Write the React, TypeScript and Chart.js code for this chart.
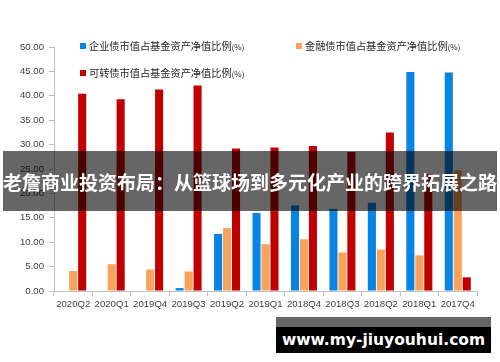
import React, { useEffect, useRef } from 'react';
import { Chart, registerables } from 'chart.js';

Chart.register(...registerables);

const categories = ['2020Q2', '2020Q1', '2019Q4', '2019Q3', '2019Q2', '2019Q1', '2018Q4', '2018Q3', '2018Q2', '2018Q1', '2017Q4'];
const corporateBond = [0, 0, 0, 0.6, 11.7, 16.0, 17.5, 16.8, 18.1, 44.9, 44.8];
const financialBond = [4.1, 5.5, 4.4, 4.0, 12.9, 9.6, 10.6, 7.9, 8.5, 7.3, 24.7];
const convertibleBond = [40.4, 39.3, 41.3, 42.1, 29.2, 29.4, 29.7, 28.5, 32.5, 24.0, 2.8];
const seriesLabels = ['企业债市值占基金资产净值比例(%)', '金融债市值占基金资产净值比例(%)', '可转债市值占基金资产净值比例(%)'];
const bannerTitle = '老詹商业投资布局：从篮球场到多元化产业的跨界拓展之路';
const watermarkText = 'www.my-jiuyouhui.com';

const CJK = '"Noto Sans CJK SC", "Noto Sans", sans-serif';
const LEGEND_SPOTS = [
  { x: 80, y: 46 },
  { x: 296, y: 46 },
  { x: 80, y: 73 },
];

const legendPlugin = {
  id: 'excelLegend',
  afterDraw(chart: any) {
    const ctx = chart.ctx;
    chart.data.datasets.forEach((ds: any, i: number) => {
      const p = LEGEND_SPOTS[i];
      if (!p) return;
      ctx.save();
      ctx.fillStyle = ds.backgroundColor;
      ctx.fillRect(p.x, p.y - 3, 6, 6);
      const m = String(ds.label).match(/^(.*?)(\(%\))$/);
      const main = m ? m[1] : ds.label;
      const suf = m ? m[2] : '';
      ctx.fillStyle = '#262626';
      ctx.textBaseline = 'middle';
      ctx.font = `10.2px ${CJK}`;
      ctx.fillText(main, p.x + 9, p.y);
      const w = ctx.measureText(main).width;
      ctx.font = `8px ${CJK}`;
      ctx.fillText(suf, p.x + 9 + w, p.y + 1);
      ctx.restore();
    });
  },
};

export default function App() {
  const canvasRef = useRef<HTMLCanvasElement | null>(null);

  useEffect(() => {
    if (!canvasRef.current) return;
    const tickFont = { family: '"Liberation Sans", Arial, sans-serif', size: 9.6 };
    const chart = new Chart(canvasRef.current, {
      type: 'bar',
      data: {
        labels: categories,
        datasets: [
          { label: seriesLabels[0], data: corporateBond, backgroundColor: '#0a84e4' },
          { label: seriesLabels[1], data: financialBond, backgroundColor: '#f8a25c' },
          { label: seriesLabels[2], data: convertibleBond, backgroundColor: '#c00000' },
        ],
      },
      options: {
        responsive: false,
        animation: false,
        devicePixelRatio: 1,
        layout: { padding: { top: 47, right: 23, left: 0, bottom: 0 } },
        datasets: { bar: { categoryPercentage: 0.7, barPercentage: 0.9 } },
        plugins: { legend: { display: false }, tooltip: { enabled: false } },
        scales: {
          x: {
            grid: { offset: true, drawOnChartArea: false, tickLength: 5, color: '#bfbfbf' },
            border: { color: '#bfbfbf', width: 1 },
            ticks: { font: tickFont, color: '#404040', padding: 3, maxRotation: 0, autoSkip: false },
            afterFit: (s: any) => { s.height = 71; },
          },
          y: {
            min: 0,
            max: 50,
            grid: { drawOnChartArea: false, tickLength: 5, color: '#bfbfbf' },
            border: { color: '#bfbfbf', width: 1 },
            ticks: { stepSize: 5, font: tickFont, color: '#404040', padding: 5, callback: (v: any) => Number(v).toFixed(2) },
            afterFit: (s: any) => { s.width = 54; },
          },
        },
      },
      plugins: [legendPlugin],
    } as any);
    return () => chart.destroy();
  }, []);

  return (
    <div style={{ position: 'absolute', left: 0, top: 0, width: 500, height: 362, background: '#fff', overflow: 'hidden' }}>
      <canvas ref={canvasRef} width={500} height={362} style={{ position: 'absolute', left: 0, top: 0 }} />
      <div
        style={{
          position: 'absolute', left: 3, top: 151, width: 494, height: 60,
          background: 'rgba(0,0,0,0.6)', color: '#fff', display: 'flex', alignItems: 'center',
          justifyContent: 'center', whiteSpace: 'nowrap', fontFamily: CJK, fontWeight: 700, fontSize: 19,
        }}
      >
        {bannerTitle}
      </div>
      <div style={{ position: 'absolute', left: 276, top: 317, width: 215, height: 10, background: '#666' }} />
      <div
        style={{
          position: 'absolute', left: 276, top: 327, width: 215, height: 26, background: '#000', color: '#fff',
          display: 'flex', alignItems: 'center', justifyContent: 'center', whiteSpace: 'nowrap',
          fontFamily: '"DejaVu Sans", sans-serif', fontWeight: 700, fontSize: 15.5,
        }}
      >
        {watermarkText}
      </div>
    </div>
  );
}
